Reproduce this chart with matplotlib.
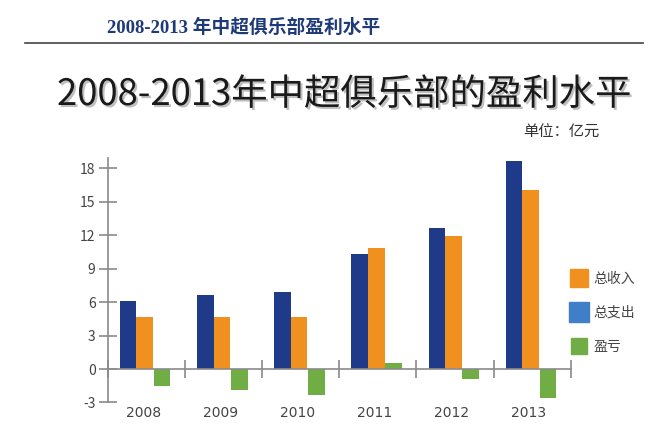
import matplotlib
matplotlib.use("Agg")
import matplotlib.pyplot as plt
import matplotlib.patheffects as pe
from matplotlib.lines import Line2D
import numpy as np

years = ["2008", "2009", "2010", "2011", "2012", "2013"]
expense = [6.1, 6.6, 6.9, 10.3, 12.65, 18.65]   # 总支出
income = [4.7, 4.7, 4.7, 10.8, 11.9, 16.0]      # 总收入
profit = [-1.5, -1.9, -2.3, 0.5, -0.9, -2.6]    # 盈亏
yticks = [-3, 0, 3, 6, 9, 12, 15, 18]
legend_labels = ["总收入", "总支出", "盈亏"]

C_BLUE = "#1f3a88"
C_ORANGE = "#f0901e"
C_GREEN = "#70ae45"
C_LEG_BLUE = "#3f7fc8"
C_AXIS = "#8a8a8a"

plt.rcParams['font.family'] = ['Noto Sans CJK SC', 'DejaVu Sans']

W, H = 659, 432
fig = plt.figure(figsize=(W / 100, H / 100), dpi=100)
fig.patch.set_facecolor("white")

def fx(px):
    return px / W

def fy(py):
    return 1 - py / H

# Header
fig.text(fx(107), fy(28), "2008-2013 年中超俱乐部盈利水平", family=['Liberation Serif', 'Noto Sans CJK SC'],
         fontsize=13.5, fontweight='bold', color="#1f3a78", ha='left', va='center')
fig.add_artist(Line2D([fx(25), fx(643)], [fy(43), fy(43)], color="#444444", lw=1.2))

# Main title
fig.text(fx(57), fy(95), "2008-2013年中超俱乐部的盈利水平", fontsize=26.2, color="#1a1a1a",
         ha='left', va='center',
         path_effects=[pe.withSimplePatchShadow(offset=(1.5, -1.5), shadow_rgbFace='#000000', alpha=0.25)])
fig.text(fx(523), fy(132), "单位：亿元", fontsize=11, color="#333333", ha='left', va='center')

# Axes
left, right = 107.7, 570.7
top, bottom = 158, 402.5
ax = fig.add_axes([fx(left), fy(bottom), fx(right - left), (bottom - top) / H])
ax.set_xlim(-0.5, 5.5)
ax.set_ylim(-3, 18.9)

x = np.arange(len(years))
bw = 0.215
ax.bar(x - 0.235, expense, bw, color=C_BLUE, zorder=2)
ax.bar(x - 0.02, income, bw, color=C_ORANGE, zorder=2)
ax.bar(x + 0.205, profit, bw, color=C_GREEN, zorder=2)

for s in ['top', 'right']:
    ax.spines[s].set_visible(False)
ax.spines['bottom'].set_position(('data', 0))
ax.spines['left'].set_color(C_AXIS)
ax.spines['bottom'].set_color(C_AXIS)
ax.spines['left'].set_linewidth(1.2)
ax.spines['bottom'].set_linewidth(1.2)
ax.spines['left'].set_zorder(3)
ax.spines['bottom'].set_zorder(3)

ax.set_yticks(yticks)
ax.set_yticklabels([str(v) for v in yticks])
ax.tick_params(axis='y', direction='inout', length=13.5, width=1.2, color=C_AXIS,
               labelsize=10, labelcolor="#444444", pad=2)
ax.set_xticks(np.arange(-0.5, 6, 1.0))
ax.set_xticklabels([])
ax.tick_params(axis='x', direction='inout', length=13, width=1.2, color=C_AXIS)

for xi, lab in zip(x, years):
    ax.text(xi - 0.04, -3.9, lab, ha='center', va='center', fontsize=10, color="#444444",
            family=['DejaVu Sans'], clip_on=False)

# Legend
handles = [
    Line2D([], [], marker='s', linestyle='none', markersize=13, color=C_ORANGE),
    Line2D([], [], marker='s', linestyle='none', markersize=15, color=C_LEG_BLUE),
    Line2D([], [], marker='s', linestyle='none', markersize=11, color=C_GREEN),
]
fig.legend(handles, legend_labels, loc='upper left', bbox_to_anchor=(fx(566), fy(266)),
           frameon=False, fontsize=10, handlelength=1.0, handletextpad=0.6,
           labelspacing=1.45, labelcolor="#444444", borderaxespad=0)

fig.savefig("out.png", dpi=100, facecolor="white")
